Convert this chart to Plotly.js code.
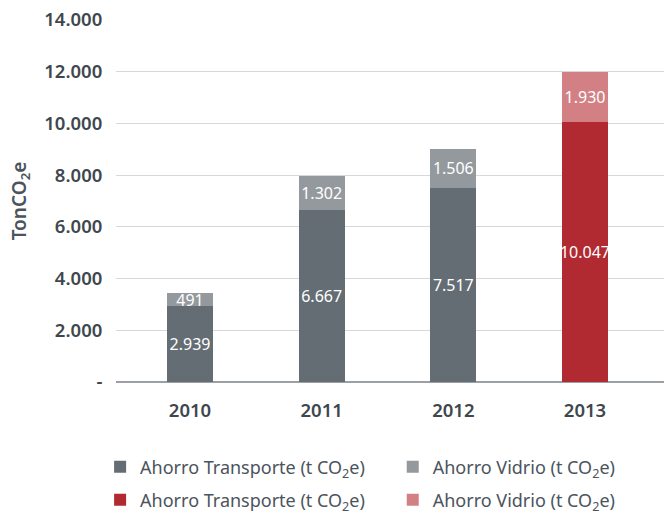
<!DOCTYPE html>
<html><head><meta charset="utf-8">
<script src="https://cdn.plot.ly/plotly-3.0.1.min.js"></script>
<style>html,body{margin:0;padding:0;background:#fff;}#chart{width:664px;height:517px;}</style>
</head><body><div id="chart"></div>
<script>
const yearsGray = ['2010','2011','2012'];
const yearsRed = ['2013'];
const transporteGray = [2939, 6667, 7517];
const vidrioGray = [491, 1302, 1506];
const transporteRed = [10047];
const vidrioRed = [1930];
const yTickVals = [0, 2000, 4000, 6000, 8000, 10000, 12000, 14000];
const yTickText = ['-', '2.000', '4.000', '6.000', '8.000', '10.000', '12.000', '14.000'];
const allYears = ['2010','2011','2012','2013'];
const legendName1 = 'Ahorro Transporte (t CO<sub>2</sub>e)';
const legendName2 = 'Ahorro Vidrio (t CO<sub>2</sub>e)';

const FONT = 'Noto Sans, Open Sans, sans-serif';
const txt = {color:'#ffffff', size:16, family: FONT};
function bar(x, y, name, color, leg){
  return {type:'bar', x:x, y:y, name:name, marker:{color:color}, width:0.35,
    texttemplate:'%{y:,.0f}', textposition:'inside', insidetextanchor:'middle', textangle:0,
    textfont:txt, constraintext:'none', hoverinfo:'skip', legend:leg};
}
const data = [
  bar(yearsGray, transporteGray, legendName1, '#646d73', 'legend'),
  bar(yearsGray, vidrioGray, legendName2, '#94999e', 'legend2'),
  bar(yearsRed, transporteRed, legendName1, '#b12a31', 'legend3'),
  bar(yearsRed, vidrioRed, legendName2, '#d38085', 'legend4')
];
const legFont = {size:18, color:'#4b545c', family: FONT};
function leg(x, y){
  return {orientation:'h', x:x, xanchor:'left', y:y, yanchor:'middle', font:legFont, bgcolor:'rgba(0,0,0,0)'};
}
const layout = {
  width:664, height:517,
  margin:{l:116, r:0, t:20, b:135, autoexpand:false},
  barmode:'stack',
  separators:',.',
  paper_bgcolor:'#fff', plot_bgcolor:'#fff',
  font:{family:FONT, color:'#4b545c'},
  uniformtext:{mode:'show', minsize:16},
  xaxis:{type:'category', categoryarray:allYears, range:[-0.562, 3.6],
    tickfont:{size:18.5, color:'#3f474e', weight:600}, ticks:'outside', ticklen:12, tickcolor:'rgba(0,0,0,0)',
    showline:false, showgrid:false, zeroline:false},
  yaxis:{range:[0,14000], tickvals:yTickVals, ticktext:yTickText,
    tickfont:{size:18.5, color:'#3f474e', weight:600},
    ticks:'outside', ticklen:9, tickcolor:'rgba(0,0,0,0)',
    showgrid:true, gridcolor:'#d6d8da', gridwidth:1, zeroline:true, zerolinecolor:'#9aa0a5', zerolinewidth:1.5,
    title:{text:'TonCO<sub>2</sub>e', font:{size:19, color:'#4b545c', weight:600}, standoff:12}},
  legend: leg(-0.029, -0.235),
  legend2: leg(0.505, -0.235),
  legend3: leg(-0.029, -0.326),
  legend4: leg(0.505, -0.326),
  showlegend:true
};
Plotly.newPlot('chart', data, layout, {displayModeBar:false, staticPlot:true});
</script></body></html>
